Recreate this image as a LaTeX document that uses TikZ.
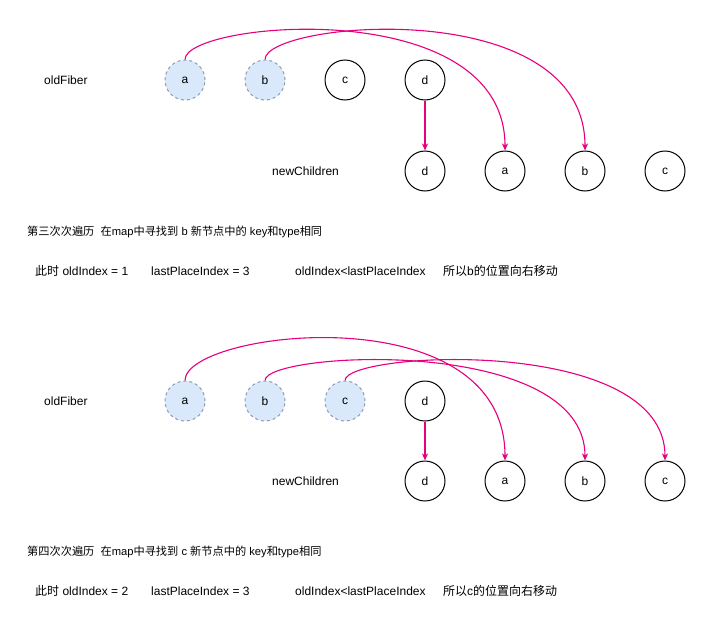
\documentclass[tikz,border=0pt]{standalone}
\usepackage{fontspec}
\setmainfont{Liberation Sans}
\newfontfamily\cjk{Noto Sans CJK SC}
\newcommand{\zh}[1]{{\cjk #1}}
\usetikzlibrary{arrows.meta,calc}
\definecolor{mag}{HTML}{E6007E}
\definecolor{oldfill}{HTML}{DAE8FC}
\definecolor{oldstroke}{HTML}{8E9BB0}
\begin{document}
\begin{tikzpicture}[x=1pt,y=-1pt,
  every node/.style={font=\fontsize{12}{14}\selectfont},
  plainc/.style={circle,draw=black,line width=1pt,minimum size=40pt,inner sep=0pt},
  oldc/.style={circle,draw=oldstroke,fill=oldfill,line width=1pt,dash pattern=on 3pt off 3pt,minimum size=40pt,inner sep=0pt},
  lbl/.style={anchor=west,inner sep=0pt},
  headline/.style={anchor=west,inner sep=0pt,font=\fontsize{11.2}{13}\selectfont},
  conn/.style={draw=mag,color=mag,line width=1.1pt,-{Stealth[length=7pt,width=6pt,inset=2pt]}},
  vconn/.style={conn,line width=1.25pt}
]
\useasboundingbox (0,0) rectangle (706,621);
\fill[white] (0,0) rectangle (706,621);

% ---------- top section ----------
\node[lbl] (tof) at (44,80) {oldFiber};
\node[lbl] (tnc) at (272,171) {newChildren};
\node[oldc] (ta) at (185,80) {a};
\node[oldc] (tb) at (265,80) {b};
\node[plainc] (tc) at (345,80) {c};
\node[plainc] (td) at (425,80) {d};
\node[plainc] (tnd) at (425,171) {d};
\node[plainc] (tna) at (505,171) {a};
\node[plainc] (tnb) at (585,171) {b};
\node[plainc] (tncc) at (665,171) {c};

\draw[vconn] (td.south) -- (tnd.north);
\draw[conn] (ta.north) .. controls +(0,-38) and +(0,-158) .. (tna.north);
\draw[conn] (tb.north) .. controls +(0,-38) and +(0,-158) .. (tnb.north);

\node[headline] (t1) at (27,232) {\zh{第三次次遍历}\hspace{6.2pt}\zh{在}map\zh{中寻找到} b \zh{新节点中的} key\zh{和}type\zh{相同}};
\node[lbl] (t2a) at (35,271) {\zh{此时} oldIndex = 1};
\node[lbl] (t2b) at (151,271) {lastPlaceIndex = 3};
\node[lbl] (t2c) at (295,271) {oldIndex<lastPlaceIndex};
\node[lbl] (t2d) at (443,271) {\zh{所以}b\zh{的位置向右移动}};

% ---------- bottom section ----------
\node[lbl] (bof) at (44,401) {oldFiber};
\node[lbl] (bnc) at (272,481) {newChildren};
\node[oldc] (ba) at (185,401) {a};
\node[oldc] (bb) at (265,401) {b};
\node[oldc] (bc) at (345,401) {c};
\node[plainc] (bd) at (425,401) {d};
\node[plainc] (bnd) at (425,481) {d};
\node[plainc] (bna) at (505,481) {a};
\node[plainc] (bnb) at (585,481) {b};
\node[plainc] (bncc) at (665,481) {c};

\draw[vconn] (bd.south) -- (bnd.north);
\draw[conn] (ba.north) .. controls +(0,-50) and +(0,-168) .. (bna.north);
\draw[conn] (bb.north) .. controls +(0,-29) and +(0,-126) .. (bnb.north);
\draw[conn] (bc.north) .. controls +(0,-29) and +(0,-126) .. (bncc.north);

\node[headline] (b1) at (27,552) {\zh{第四次次遍历}\hspace{6.2pt}\zh{在}map\zh{中寻找到} c \zh{新节点中的} key\zh{和}type\zh{相同}};
\node[lbl] (b2a) at (35,591) {\zh{此时} oldIndex = 2};
\node[lbl] (b2b) at (151,591) {lastPlaceIndex = 3};
\node[lbl] (b2c) at (295,591) {oldIndex<lastPlaceIndex};
\node[lbl] (b2d) at (443,591) {\zh{所以}c\zh{的位置向右移动}};
\end{tikzpicture}
\end{document}
